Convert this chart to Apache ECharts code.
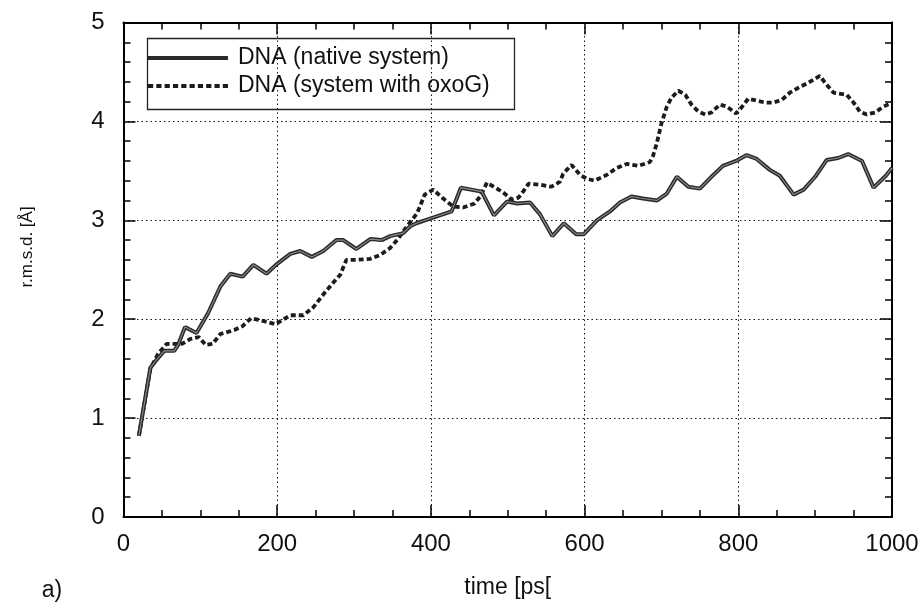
<!DOCTYPE html>
<html>
<head>
<meta charset="utf-8">
<script src="https://cdn.jsdelivr.net/npm/echarts@6/dist/echarts.min.js"></script>
<style>
  html, body { margin: 0; padding: 0; background: #fff; }
  #chart { width: 923px; height: 604px; }
</style>
</head>
<body>
<div id="chart"></div>
<script>
// r.m.s.d. of the DNA over the simulation time, native system vs. system with oxoG
const nativeTime = [20, 35, 42, 53, 66, 71, 80, 95, 110, 126, 139, 155, 169, 186, 200, 217, 230, 245, 260, 277,
  286, 303, 321, 336, 347, 364, 373, 381, 400, 427, 439, 466, 482, 499, 512, 529, 542, 558, 573, 589,
  599, 616, 633, 646, 661, 676, 694, 707, 720, 735, 750, 765, 780, 797, 811, 824, 841, 854, 872, 885,
  900, 915, 930, 943, 961, 976, 992, 1000];
const nativeRmsd = [0.82, 1.51, 1.58, 1.68, 1.68, 1.74, 1.92, 1.86, 2.06, 2.33, 2.46, 2.43, 2.55, 2.46, 2.56, 2.66, 2.69, 2.63, 2.69, 2.80,
  2.80, 2.71, 2.81, 2.80, 2.84, 2.87, 2.94, 2.97, 3.02, 3.09, 3.33, 3.29, 3.05, 3.19, 3.17, 3.18, 3.06, 2.84, 2.97, 2.86,
  2.86, 3.00, 3.09, 3.18, 3.24, 3.22, 3.20, 3.27, 3.44, 3.34, 3.32, 3.44, 3.55, 3.60, 3.66, 3.62, 3.51, 3.45, 3.26, 3.31,
  3.44, 3.61, 3.63, 3.67, 3.60, 3.33, 3.45, 3.53];

const oxoTime = [20, 35, 45, 56, 76, 87, 98, 107, 116, 126, 144, 155, 166, 183, 198, 217, 234, 247, 262, 273,
  282, 290, 303, 321, 334, 347, 356, 369, 382, 392, 403, 416, 429, 442, 457, 464, 473, 486, 496, 505,
  514, 520, 527, 542, 557, 568, 572, 583, 594, 603, 613, 629, 642, 655, 670, 685, 689, 694, 700, 707,
  713, 722, 731, 739, 748, 757, 765, 776, 785, 797, 804, 813, 824, 835, 846, 857, 867, 878, 891, 906,
  915, 924, 941, 950, 958, 967, 978, 989, 1000];
const oxoRmsd = [0.82, 1.50, 1.65, 1.75, 1.75, 1.80, 1.82, 1.74, 1.75, 1.85, 1.89, 1.93, 2.01, 1.98, 1.95, 2.04, 2.04, 2.12, 2.27, 2.37,
  2.45, 2.60, 2.60, 2.61, 2.65, 2.72, 2.80, 2.94, 3.07, 3.26, 3.31, 3.22, 3.14, 3.13, 3.17, 3.24, 3.38, 3.32, 3.27, 3.21,
  3.23, 3.29, 3.37, 3.36, 3.34, 3.39, 3.47, 3.56, 3.46, 3.42, 3.40, 3.46, 3.53, 3.57, 3.55, 3.59, 3.65, 3.78, 3.98, 4.15,
  4.24, 4.31, 4.27, 4.17, 4.10, 4.07, 4.09, 4.17, 4.15, 4.08, 4.14, 4.23, 4.21, 4.19, 4.19, 4.22, 4.29, 4.34, 4.39, 4.46,
  4.37, 4.29, 4.27, 4.19, 4.10, 4.07, 4.09, 4.15, 4.19];

const seriesNames = ['DNA (native system)', 'DNA (system with oxoG)'];
const xTickValues = [0, 200, 400, 600, 800, 1000];
const yTickValues = [0, 1, 2, 3, 4, 5];
const xTitle = 'time [ps[';
const yTitle = 'r.m.s.d. [Å]';
const panelTag = 'a)';

const FONT = '"Liberation Sans", Arial, Helvetica, sans-serif';
const pairs = (xs, ys) => xs.map((x, i) => [x, ys[i]]);

// legend keys: a solid bar and a row of short dashes (80 x 4 units)
const solidKey = 'path://M0,0 L80,0 L80,4 L0,4 Z';
let dashKey = 'path://';
for (let x = 0; x < 80; x += 8) dashKey += `M${x},0 L${x + 5},0 L${x + 5},4 L${x},4 Z `;

const chart = echarts.init(document.getElementById('chart'), null, { renderer: 'canvas' });

const gridDots = { show: true, lineStyle: { color: '#111', width: 1, type: [1.5, 3] } };

function xAxisDef(pos, showLabels) {
  return {
    type: 'value', position: pos, min: 0, max: 1000, interval: 200,
    axisLine: { show: true, onZero: false, lineStyle: { color: '#000', width: 2 } },
    axisTick: { show: true, inside: true, length: 12, lineStyle: { color: '#000', width: 1.5 } },
    minorTick: { show: true, splitNumber: 4, length: 7, lineStyle: { color: '#000', width: 1.5 } },
    axisLabel: {
      show: showLabels, margin: 15, color: '#111', fontSize: 24, fontFamily: FONT,
      formatter: v => (xTickValues.indexOf(v) >= 0 ? String(v) : '')
    },
    splitLine: showLabels ? gridDots : { show: false }
  };
}

function yAxisDef(pos, showLabels) {
  return {
    type: 'value', position: pos, min: 0, max: 5, interval: 1,
    axisLine: { show: true, onZero: false, lineStyle: { color: '#000', width: 2 } },
    axisTick: { show: true, inside: true, length: 12, lineStyle: { color: '#000', width: 1.5 } },
    minorTick: { show: true, splitNumber: 5, length: 7, lineStyle: { color: '#000', width: 1.5 } },
    axisLabel: {
      show: showLabels, margin: 19, color: '#111', fontSize: 24, fontFamily: FONT,
      formatter: v => (yTickValues.indexOf(v) >= 0 ? String(v) : '')
    },
    splitLine: showLabels ? gridDots : { show: false }
  };
}

const xBottom = xAxisDef('bottom', true);
xBottom.name = xTitle;
xBottom.nameLocation = 'middle';
xBottom.nameGap = 59;
xBottom.nameTextStyle = { color: '#111', fontSize: 23, fontFamily: FONT };

chart.setOption({
  animation: false,
  backgroundColor: '#fff',
  grid: { left: 123.5, right: 31, top: 22.5, bottom: 86.5, containLabel: false },
  xAxis: [xBottom, xAxisDef('top', false)],
  yAxis: [yAxisDef('left', true), yAxisDef('right', false)],
  legend: {
    data: [
      { name: seriesNames[0], icon: solidKey },
      { name: seriesNames[1], icon: dashKey }
    ],
    orient: 'vertical',
    left: 148, top: 46,
    padding: 0,
    itemWidth: 80, itemHeight: 14, itemGap: 4,
    textStyle: { color: '#111', fontSize: 23, lineHeight: 24, fontFamily: FONT, padding: [0, 0, 0, 5] },
    selectedMode: false
  },
  graphic: [
    {
      type: 'rect', left: 145, top: 36, z: 10,
      shape: { width: 367, height: 71 },
      style: { fill: 'none', stroke: '#222', lineWidth: 1.3 }
    },
    {
      type: 'text', x: 27, y: 247, rotation: Math.PI / 2,
      style: { text: yTitle, fill: '#111', font: '17px ' + FONT, align: 'center', verticalAlign: 'middle' }
    },
    {
      type: 'text', x: 52, y: 591,
      style: { text: panelTag, fill: '#111', font: '23px ' + FONT, align: 'center', verticalAlign: 'middle' }
    }
  ],
  series: [
    {
      name: seriesNames[1], type: 'line', xAxisIndex: 0, yAxisIndex: 0,
      data: pairs(oxoTime, oxoRmsd), showSymbol: false, symbol: 'none',
      lineStyle: { color: '#1c1c1c', width: 3.8, type: [5, 3] },
      itemStyle: { color: '#1c1c1c' }, z: 3
    },
    {
      name: seriesNames[0], type: 'line', xAxisIndex: 0, yAxisIndex: 0,
      data: pairs(nativeTime, nativeRmsd), showSymbol: false, symbol: 'none',
      lineStyle: { color: '#2a2a2a', width: 4 },
      itemStyle: { color: '#2a2a2a' }, z: 4
    },
    {
      // lighter core stroke along the native curve
      name: 'native core', type: 'line', xAxisIndex: 0, yAxisIndex: 0,
      data: pairs(nativeTime, nativeRmsd), showSymbol: false, symbol: 'none',
      lineStyle: { color: '#8c8c8c', width: 1.1 },
      itemStyle: { color: '#8c8c8c' }, z: 5, silent: true
    }
  ]
});
</script>
</body>
</html>
